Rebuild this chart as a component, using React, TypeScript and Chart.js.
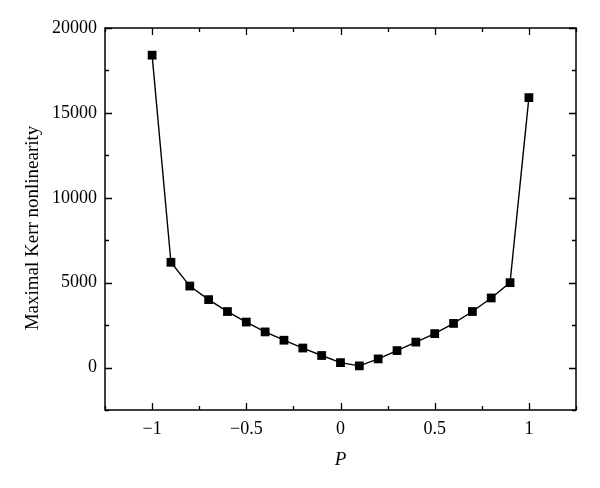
import React, { useEffect, useRef } from "react";
import { Chart, registerables } from "chart.js";

Chart.register(...registerables);

const pValues = [-1, -0.9, -0.8, -0.7, -0.6, -0.5, -0.4, -0.3, -0.2, -0.1, 0, 0.1, 0.2, 0.3, 0.4, 0.5, 0.6, 0.7, 0.8, 0.9, 1];
const kerrValues = [18400, 6200, 4800, 4000, 3300, 2680, 2100, 1610, 1150, 710, 290, 100, 510, 1000, 1500, 2000, 2600, 3300, 4100, 5000, 15900];
const xMajorTicks = [-1, -0.5, 0, 0.5, 1];
const yMajorTicks = [0, 5000, 10000, 15000, 20000];
const xTitle = "P";
const yTitle = "Maximal Kerr nonlinearity";

const FONT = "'Liberation Serif', 'DejaVu Serif', serif";

const isMajor = (v: number, list: number[]) => list.some((m) => Math.abs(m - v) < 1e-9);

const framePlugin = {
  id: "frameTicks",
  afterDraw(chart: any) {
    const { ctx, chartArea } = chart;
    const { left, right, top, bottom } = chartArea;
    const xs = chart.scales.x;
    const ys = chart.scales.y;
    ctx.save();
    ctx.strokeStyle = "#000";
    ctx.lineWidth = 1.5;
    ctx.strokeRect(left, top, right - left, bottom - top);
    ctx.lineWidth = 1.3;
    xs.ticks.forEach((t: any) => {
      const px = Math.round(xs.getPixelForValue(t.value)) + 0.5;
      const len = isMajor(t.value, xMajorTicks) ? 7 : 4;
      ctx.beginPath();
      ctx.moveTo(px, bottom);
      ctx.lineTo(px, bottom - len);
      ctx.moveTo(px, top);
      ctx.lineTo(px, top + len);
      ctx.stroke();
    });
    ys.ticks.forEach((t: any) => {
      const py = Math.round(ys.getPixelForValue(t.value)) + 0.5;
      const len = isMajor(t.value, yMajorTicks) ? 7 : 4;
      ctx.beginPath();
      ctx.moveTo(left, py);
      ctx.lineTo(left + len, py);
      ctx.moveTo(right, py);
      ctx.lineTo(right - len, py);
      ctx.stroke();
    });
    ctx.fillStyle = "#000";
    ctx.textAlign = "center";
    ctx.textBaseline = "middle";
    ctx.font = `italic 19px ${FONT}`;
    ctx.fillText(xTitle, (left + right) / 2, 460);
    ctx.save();
    ctx.translate(33, 228);
    ctx.rotate(-Math.PI / 2);
    ctx.font = `19px ${FONT}`;
    ctx.fillText(yTitle, 0, 0);
    ctx.restore();
    ctx.restore();
  },
};

export default function App() {
  const ref = useRef<HTMLCanvasElement | null>(null);
  useEffect(() => {
    if (!ref.current) return;
    const chart = new Chart(ref.current, {
      type: "line",
      data: {
        datasets: [
          {
            data: pValues.map((p, i) => ({ x: p, y: kerrValues[i] })),
            borderColor: "#000",
            backgroundColor: "#000",
            borderWidth: 1.4,
            pointStyle: "rect",
            pointRadius: 6.2,
            pointBorderWidth: 0,
            pointBackgroundColor: "#000",
            tension: 0,
          },
        ],
      },
      options: {
        animation: false,
        responsive: false,
        maintainAspectRatio: false,
        layout: { padding: { left: 0, top: 28, right: 24, bottom: 0 } },
        plugins: { legend: { display: false }, tooltip: { enabled: false } },
        scales: {
          x: {
            type: "linear",
            min: -1.25,
            max: 1.25,
            grid: { display: false, drawTicks: false },
            border: { display: false },
            ticks: {
              stepSize: 0.25,
              autoSkip: false,
              maxRotation: 0,
              padding: 8,
              color: "#000",
              font: { family: FONT, size: 18 },
              callback: (v: any) => {
                const n = Number(v);
                if (!isMajor(n, xMajorTicks)) return "";
                return n < 0 ? "\u2212" + String(-n) : String(n);
              },
            },
            afterFit: (s: any) => {
              s.height = 78;
            },
          },
          y: {
            type: "linear",
            min: -2500,
            max: 20000,
            grid: { display: false, drawTicks: false },
            border: { display: false },
            ticks: {
              stepSize: 2500,
              autoSkip: false,
              padding: 8,
              color: "#000",
              font: { family: FONT, size: 18 },
              callback: (v: any) => {
                const n = Number(v);
                return isMajor(n, yMajorTicks) ? String(n) : "";
              },
            },
            afterFit: (s: any) => {
              s.width = 105;
            },
          },
        },
      },
      plugins: [framePlugin],
    });
    return () => chart.destroy();
  }, []);
  return (
    <div style={{ position: "fixed", left: 0, top: 0, width: 600, height: 488, background: "#fff" }}>
      <canvas ref={ref} width={600} height={488} style={{ display: "block" }} />
    </div>
  );
}
